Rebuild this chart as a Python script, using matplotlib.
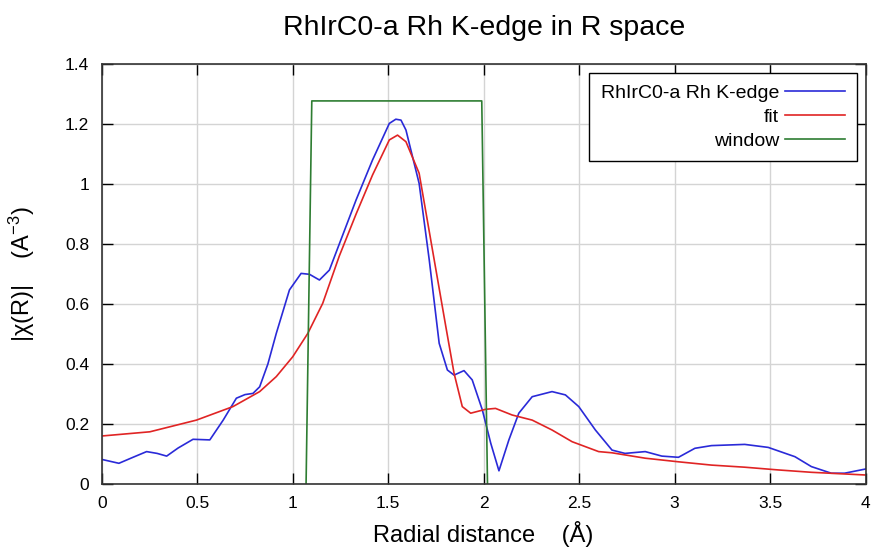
import numpy as np
import matplotlib.pyplot as plt
from matplotlib.ticker import FuncFormatter

plt.rcParams['font.family'] = ['Liberation Sans', 'DejaVu Sans']
plt.rcParams['mathtext.fontset'] = 'custom'
plt.rcParams['mathtext.rm'] = 'Liberation Sans'
plt.rcParams['mathtext.it'] = 'Liberation Sans'

# data (R in Angstrom, |chi(R)|)
data_r = [0, 0.09, 0.16, 0.235, 0.29, 0.34, 0.40, 0.478, 0.566, 0.636, 0.705,
          0.75, 0.792, 0.827, 0.87, 0.914, 0.983, 1.044, 1.088, 1.14, 1.192,
          1.244, 1.332, 1.418, 1.506, 1.54, 1.567, 1.593, 1.662, 1.715, 1.767,
          1.81, 1.845, 1.897, 1.94, 1.993, 2.037, 2.08, 2.132, 2.184, 2.254,
          2.358, 2.428, 2.498, 2.585, 2.672, 2.74, 2.846, 2.933, 3.02, 3.106,
          3.193, 3.367, 3.49, 3.63, 3.716, 3.82, 3.89, 4.0]
data_chi = [0.082, 0.069, 0.088, 0.108, 0.102, 0.093, 0.12, 0.149, 0.147, 0.213,
            0.286, 0.298, 0.302, 0.324, 0.40, 0.502, 0.647, 0.702, 0.699, 0.68,
            0.713, 0.80, 0.947, 1.08, 1.202, 1.216, 1.213, 1.18, 1.002, 0.747,
            0.469, 0.38, 0.363, 0.378, 0.347, 0.247, 0.136, 0.044, 0.147, 0.236,
            0.291, 0.308, 0.297, 0.258, 0.18, 0.113, 0.102, 0.108, 0.093, 0.089,
            0.119, 0.128, 0.132, 0.122, 0.091, 0.058, 0.036, 0.036, 0.05]

fit_r = [0, 0.252, 0.496, 0.687, 0.827, 0.914, 1.0, 1.079, 1.157, 1.244, 1.332,
         1.418, 1.506, 1.549, 1.593, 1.662, 1.732, 1.802, 1.845, 1.888, 1.932,
         2.01, 2.062, 2.149, 2.254, 2.358, 2.463, 2.602, 2.672, 2.846, 3.02,
         3.193, 3.367, 3.54, 3.716, 4.0]
fit_chi = [0.16, 0.174, 0.213, 0.258, 0.308, 0.358, 0.424, 0.502, 0.602, 0.76,
           0.90, 1.03, 1.147, 1.163, 1.141, 1.036, 0.78, 0.524, 0.369, 0.258,
           0.236, 0.249, 0.252, 0.23, 0.213, 0.18, 0.141, 0.108, 0.104, 0.086,
           0.074, 0.063, 0.056, 0.047, 0.039, 0.03]

window_r = [1.07, 1.10, 1.99, 2.02]
window_val = [0, 1.277, 1.277, 0]

fig = plt.figure(figsize=(8.74, 5.5), dpi=100)
ax = fig.add_axes([0.1164, 0.12, 0.874, 0.7636])

ax.plot(data_r, data_chi, color='#2a2ad8', lw=1.2, label='RhIrC0-a Rh K-edge')
ax.plot(fit_r, fit_chi, color='#e02424', lw=1.2, label='fit')
ax.plot(window_r, window_val, color='#2e7d32', lw=1.2, label='window')

ax.set_xlim(0, 4)
ax.set_ylim(0, 1.4)
ax.set_xticks(np.arange(0, 4.01, 0.5))
ax.set_yticks(np.arange(0, 1.41, 0.2))
fmt = FuncFormatter(lambda v, p: '%g' % round(v, 2))
ax.xaxis.set_major_formatter(fmt)
ax.yaxis.set_major_formatter(fmt)
ax.tick_params(direction='in', length=8, width=1, top=True, right=True,
               labelsize=12.5, pad=9)
ax.grid(True, color='#d4d4d4', lw=1)
ax.set_axisbelow(True)
for s in ax.spines.values():
    s.set_color('#333333')
    s.set_linewidth(1.2)

ax.set_title('RhIrC0-a Rh K-edge in R space', fontsize=20.5, pad=21)
ax.set_xlabel('Radial distance    (Å)', fontsize=17, labelpad=7)
ax.set_ylabel('|χ(R)|    (A$^{-3}$)', fontsize=17, labelpad=20)

leg = ax.legend(loc='upper right', markerfirst=False, fontsize=14,
                fancybox=False, framealpha=1, edgecolor='black',
                handlelength=3.1, handletextpad=0.3, labelspacing=0.32,
                borderaxespad=0.45, borderpad=0.6)
leg.get_frame().set_linewidth(1.0)

plt.savefig('out.png', dpi=100)
plt.close()
